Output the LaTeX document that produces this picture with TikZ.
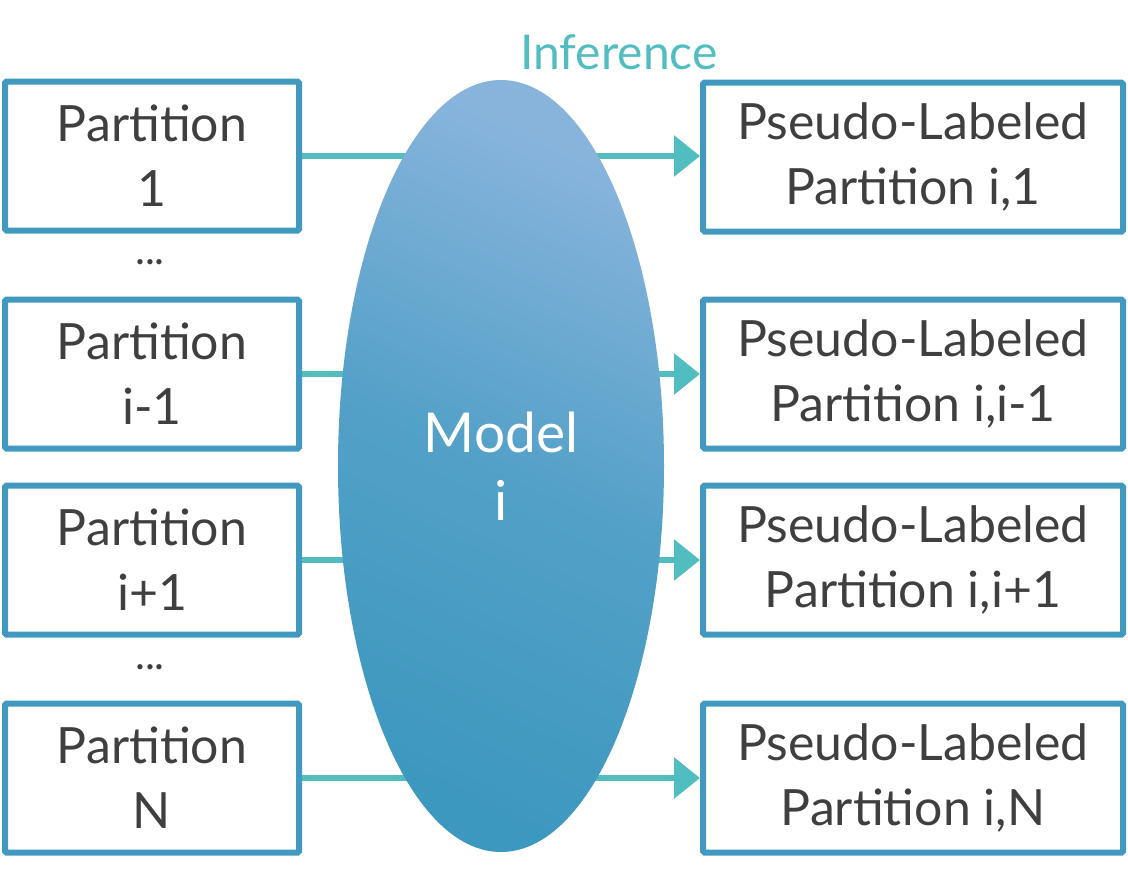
\documentclass[tikz,border=0pt]{standalone}
\usepackage{fontspec}
\setmainfont{Lato}
\usetikzlibrary{arrows.meta}
\definecolor{boxblue}{HTML}{4199C0}
\definecolor{teal}{HTML}{52BDC0}
\definecolor{txt}{HTML}{3F3F3F}
\definecolor{elltop}{HTML}{88B4DC}
\definecolor{ellbot}{HTML}{3D98BF}
\begin{document}
\begin{tikzpicture}[x=1pt,y=-1pt,
  pbox/.style={draw=boxblue,line width=6pt,rounded corners=1.5pt,fill=white,minimum width=294pt,minimum height=149pt,align=center,font=\fontsize{50}{65}\selectfont,text=txt,inner sep=0pt},
  rbox/.style={pbox,minimum width=420pt},
  conn/.style={draw=teal,line width=6pt},
  arr/.style={conn,-{Triangle[length=26pt,width=40pt]}}
]
\useasboundingbox (0,0) rectangle (1128,876);
\node[pbox] (l1) at (152,156) {Partition\\1};
\node[pbox] (l2) at (152,374) {Partition\\i-1};
\node[pbox] (l3) at (152,560) {Partition\\i+1};
\node[pbox] (l4) at (152,778) {Partition\\N};
\node[rbox] (r1) at (913,157) {Pseudo-Labeled\\Partition i,1};
\node[rbox] (r2) at (913,374) {Pseudo-Labeled\\Partition i,i-1};
\node[rbox] (r3) at (913,560) {Pseudo-Labeled\\Partition i,i+1};
\node[rbox] (r4) at (913,778) {Pseudo-Labeled\\Partition i,N};
\draw[arr] (l1.east) -- (r1.west |- l1.east);
\draw[arr] (l2.east) -- (r2.west |- l2.east);
\draw[arr] (l3.east) -- (r3.west |- l3.east);
\draw[arr] (l4.east) -- (r4.west |- l4.east);
\path[top color=elltop,bottom color=ellbot,shading angle=-25,middle color=ellbot!70!elltop] (501,466) ellipse [x radius=163,y radius=386];
\node[text=white,align=center,font=\fontsize{55}{68}\selectfont] (m) at (501,466) {Model\\i};
\node[text=teal,font=\fontsize{48}{56}\selectfont] (inf) at (619,52) {Inference};
\node[text=txt,font=\fontsize{42}{48}\selectfont] (d1) at (150,262) {...};
\node[text=txt,font=\fontsize{42}{48}\selectfont] (d2) at (150,667) {...};
\end{tikzpicture}
\end{document}
